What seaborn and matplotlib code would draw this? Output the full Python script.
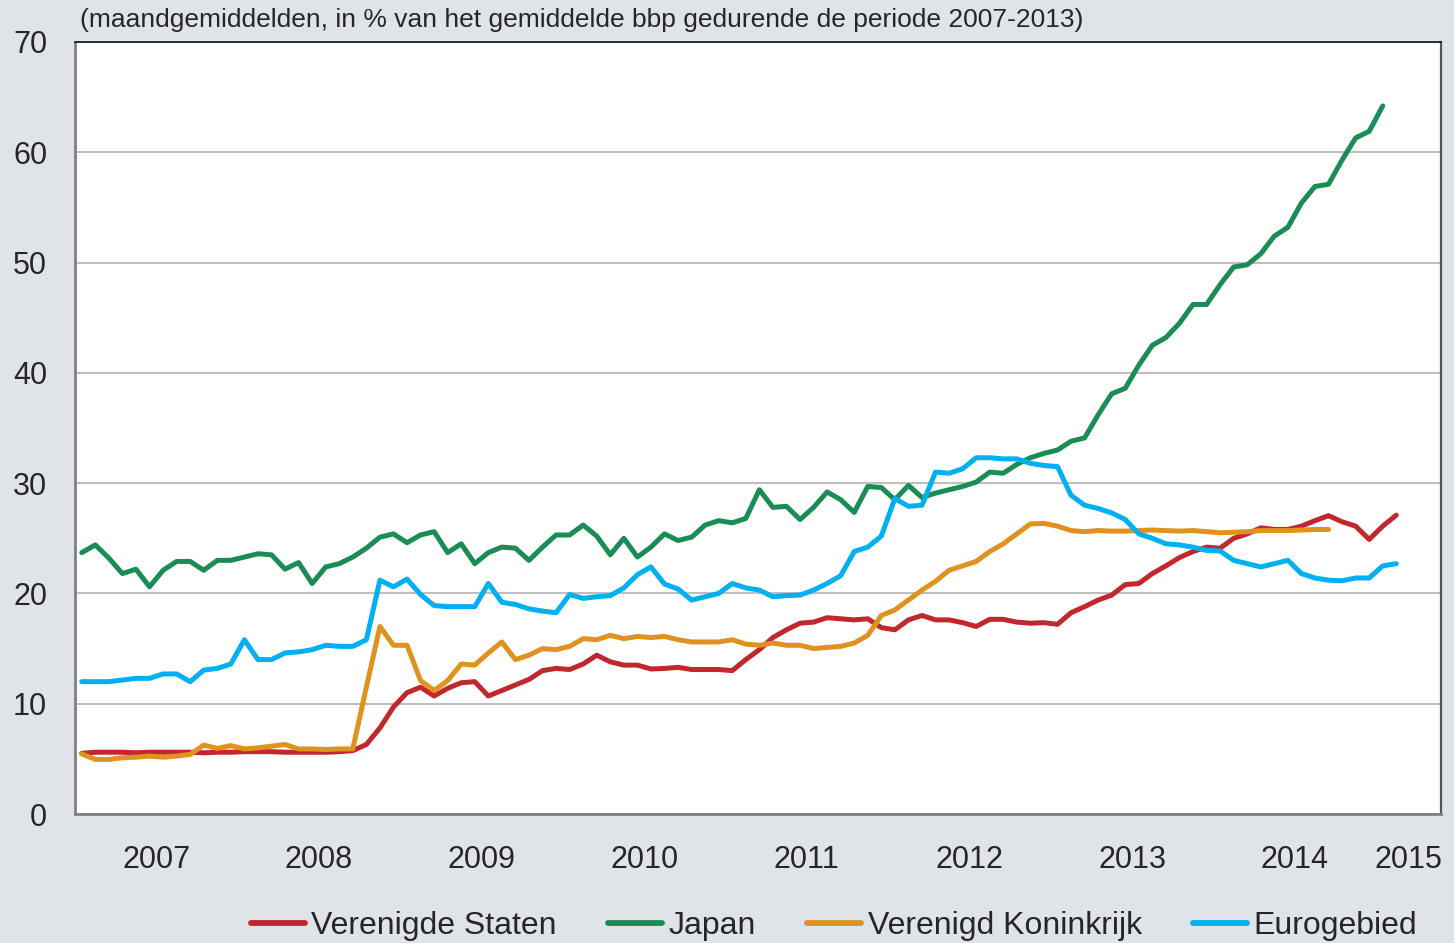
import numpy as np
import pandas as pd
import matplotlib
matplotlib.use('Agg')
import matplotlib.pyplot as plt
from matplotlib.lines import Line2D
from matplotlib.ticker import FixedLocator, NullFormatter, FixedFormatter
import seaborn as sns

# Jaren op de x-as
jaren = [2007, 2008, 2009, 2010, 2011, 2012, 2013, 2014, 2015]

# Maandgemiddelden vanaf januari 2007 (in % van het bbp)
verenigde_staten = [
    5.5, 5.6, 5.6, 5.6, 5.55, 5.6, 5.6, 5.6, 5.6, 5.55, 5.6, 5.6, 5.65, 5.65, 5.65, 5.6,
    5.6, 5.6, 5.6, 5.65, 5.75, 6.3, 7.8, 9.7, 11.0, 11.5, 10.7, 11.4, 11.9, 12.0, 10.7, 11.2,
    11.7, 12.2, 13.0, 13.2, 13.1, 13.6, 14.4, 13.8, 13.5, 13.5, 13.15, 13.2, 13.3, 13.1, 13.1, 13.1,
    13.0, 14.0, 14.9, 16.0, 16.7, 17.3, 17.4, 17.8, 17.7, 17.6, 17.7, 16.9, 16.7, 17.6, 18.0, 17.6,
    17.6, 17.35, 17.0, 17.65, 17.65, 17.4, 17.3, 17.35, 17.2, 18.25, 18.8, 19.4, 19.85, 20.8, 20.9, 21.8,
    22.5, 23.25, 23.8, 24.2, 24.1, 25.0, 25.4, 25.95, 25.8, 25.8, 26.1, 26.6, 27.05, 26.5, 26.1, 24.9,
    26.1, 27.1,
]
japan = [
    23.7, 24.4, 23.2, 21.8, 22.2, 20.6, 22.1, 22.9, 22.9, 22.1, 23.0, 23.0, 23.3, 23.6, 23.5, 22.2,
    22.8, 20.9, 22.4, 22.7, 23.3, 24.1, 25.1, 25.4, 24.6, 25.3, 25.6, 23.7, 24.5, 22.7, 23.7, 24.2,
    24.1, 23.0, 24.2, 25.3, 25.3, 26.2, 25.2, 23.5, 25.0, 23.3, 24.2, 25.4, 24.8, 25.1, 26.2, 26.6,
    26.4, 26.8, 29.4, 27.8, 27.9, 26.7, 27.8, 29.2, 28.5, 27.35, 29.7, 29.6, 28.5, 29.8, 28.7, 29.1,
    29.4, 29.7, 30.1, 31.0, 30.9, 31.7, 32.3, 32.7, 33.0, 33.8, 34.1, 36.2, 38.1, 38.6, 40.7, 42.5,
    43.2, 44.5, 46.2, 46.2, 48.0, 49.6, 49.8, 50.8, 52.4, 53.2, 55.4, 56.9, 57.1, 59.3, 61.3, 61.9,
    64.2,
]
verenigd_koninkrijk = [
    5.45, 4.95, 4.95, 5.1, 5.15, 5.25, 5.15, 5.25, 5.4, 6.25, 5.95, 6.2, 5.9, 6.0, 6.15, 6.3,
    5.9, 5.9, 5.85, 5.9, 5.9, 11.5, 17.0, 15.3, 15.3, 12.1, 11.2, 12.1, 13.6, 13.5, 14.6, 15.6,
    14.0, 14.4, 15.0, 14.9, 15.2, 15.9, 15.8, 16.2, 15.9, 16.1, 16.0, 16.1, 15.8, 15.6, 15.6, 15.6,
    15.8, 15.4, 15.3, 15.5, 15.3, 15.3, 15.0, 15.1, 15.2, 15.5, 16.2, 18.0, 18.5, 19.4, 20.3, 21.1,
    22.1, 22.5, 22.9, 23.8, 24.5, 25.4, 26.3, 26.35, 26.1, 25.7, 25.6, 25.7, 25.65, 25.65, 25.7, 25.75,
    25.7, 25.65, 25.7, 25.6, 25.5, 25.55, 25.6, 25.7, 25.7, 25.7, 25.75, 25.8, 25.8,
]
eurogebied = [
    12.0, 12.0, 12.0, 12.15, 12.3, 12.3, 12.7, 12.7, 12.0, 13.05, 13.2, 13.6, 15.8, 14.0, 14.0, 14.6,
    14.7, 14.9, 15.3, 15.2, 15.2, 15.8, 21.2, 20.6, 21.3, 19.9, 18.9, 18.8, 18.8, 18.8, 20.9, 19.2,
    19.0, 18.6, 18.4, 18.25, 19.9, 19.55, 19.7, 19.8, 20.5, 21.7, 22.4, 20.85, 20.4, 19.4, 19.7, 20.0,
    20.9, 20.5, 20.3, 19.7, 19.8, 19.85, 20.3, 20.9, 21.6, 23.8, 24.2, 25.2, 28.6, 27.9, 28.0, 31.0,
    30.9, 31.3, 32.3, 32.3, 32.2, 32.2, 31.8, 31.6, 31.5, 28.9, 28.0, 27.7, 27.3, 26.7, 25.4, 25.0,
    24.5, 24.4, 24.2, 23.9, 23.85, 23.0, 22.7, 22.4, 22.7, 23.0, 21.8, 21.4, 21.2, 21.15, 21.4, 21.4,
    22.5, 22.7,
]

namen = ['Verenigde Staten', 'Japan', 'Verenigd Koninkrijk', 'Eurogebied']
reeksen = [verenigde_staten, japan, verenigd_koninkrijk, eurogebied]
kleuren = ['#C1272D', '#1A8C55', '#E0921E', '#00B0F0']

# Long format, maand in het midden van elke maand
frames = []
for naam, reeks in zip(namen, reeksen):
    frames.append(pd.DataFrame({'maand': np.arange(len(reeks)) + 0.5,
                                'waarde': reeks, 'reeks': naam}))
df = pd.concat(frames, ignore_index=True)

sns.set_style('white')
plt.rcParams['font.family'] = ['Liberation Sans', 'DejaVu Sans']

bg = '#E0E3E8'
fig = plt.figure(figsize=(14.54, 9.43), dpi=100, facecolor=bg)
ax = fig.add_axes([75 / 1454, 1 - 814 / 943, (1441 - 75) / 1454, (814 - 42) / 943])
ax.set_facecolor('white')

sns.lineplot(data=df, x='maand', y='waarde', hue='reeks', hue_order=namen,
             palette=dict(zip(namen, kleuren)), linewidth=3.6, ax=ax, legend=False)

# Assen
x_max = 100.8
ax.set_xlim(0, x_max)
ax.set_ylim(0, 70)
ax.set_yticks(range(0, 71, 10))
ax.yaxis.grid(True, color='#BFBFBF', linewidth=1.5)
ax.set_axisbelow(True)
ax.tick_params(axis='y', labelsize=22, length=8, width=1.5, color='#808080', pad=12)

starts = [12 * i for i in range(len(jaren))]
mids = [(s + min(s + 12, x_max)) / 2 for s in starts]
ax.xaxis.set_major_locator(FixedLocator(starts))
ax.xaxis.set_major_formatter(NullFormatter())
ax.xaxis.set_minor_locator(FixedLocator(mids))
ax.xaxis.set_minor_formatter(FixedFormatter([str(j) for j in jaren]))
ax.tick_params(axis='x', which='major', length=8, width=1.5, color='#808080')
ax.tick_params(axis='x', which='minor', length=0, labelsize=22, pad=22)
ax.set_xlabel('')
ax.set_ylabel('')

for side in ['left', 'bottom']:
    ax.spines[side].set_color('#808080')
    ax.spines[side].set_linewidth(2)
ax.spines['top'].set_color('#111111')
ax.spines['top'].set_linewidth(1.2)
ax.spines['right'].set_color('#555555')
ax.spines['right'].set_linewidth(1.6)

# Titel
fig.text(80 / 1454, 1 - 20 / 943,
         '(maandgemiddelden, in % van het gemiddelde bbp gedurende de periode 2007-2013)',
         fontsize=19, va='center', ha='left')

# Legenda
handles = [Line2D([], [], color=k, linewidth=4.2) for k in kleuren]
fig.legend(handles, namen, loc='center', bbox_to_anchor=(834 / 1454, 1 - 926 / 943),
           ncol=4, frameon=False, fontsize=23, handlelength=1.7, handletextpad=0.2,
           columnspacing=1.6, borderpad=0)

fig.savefig('out.png', dpi=100, facecolor=bg)
